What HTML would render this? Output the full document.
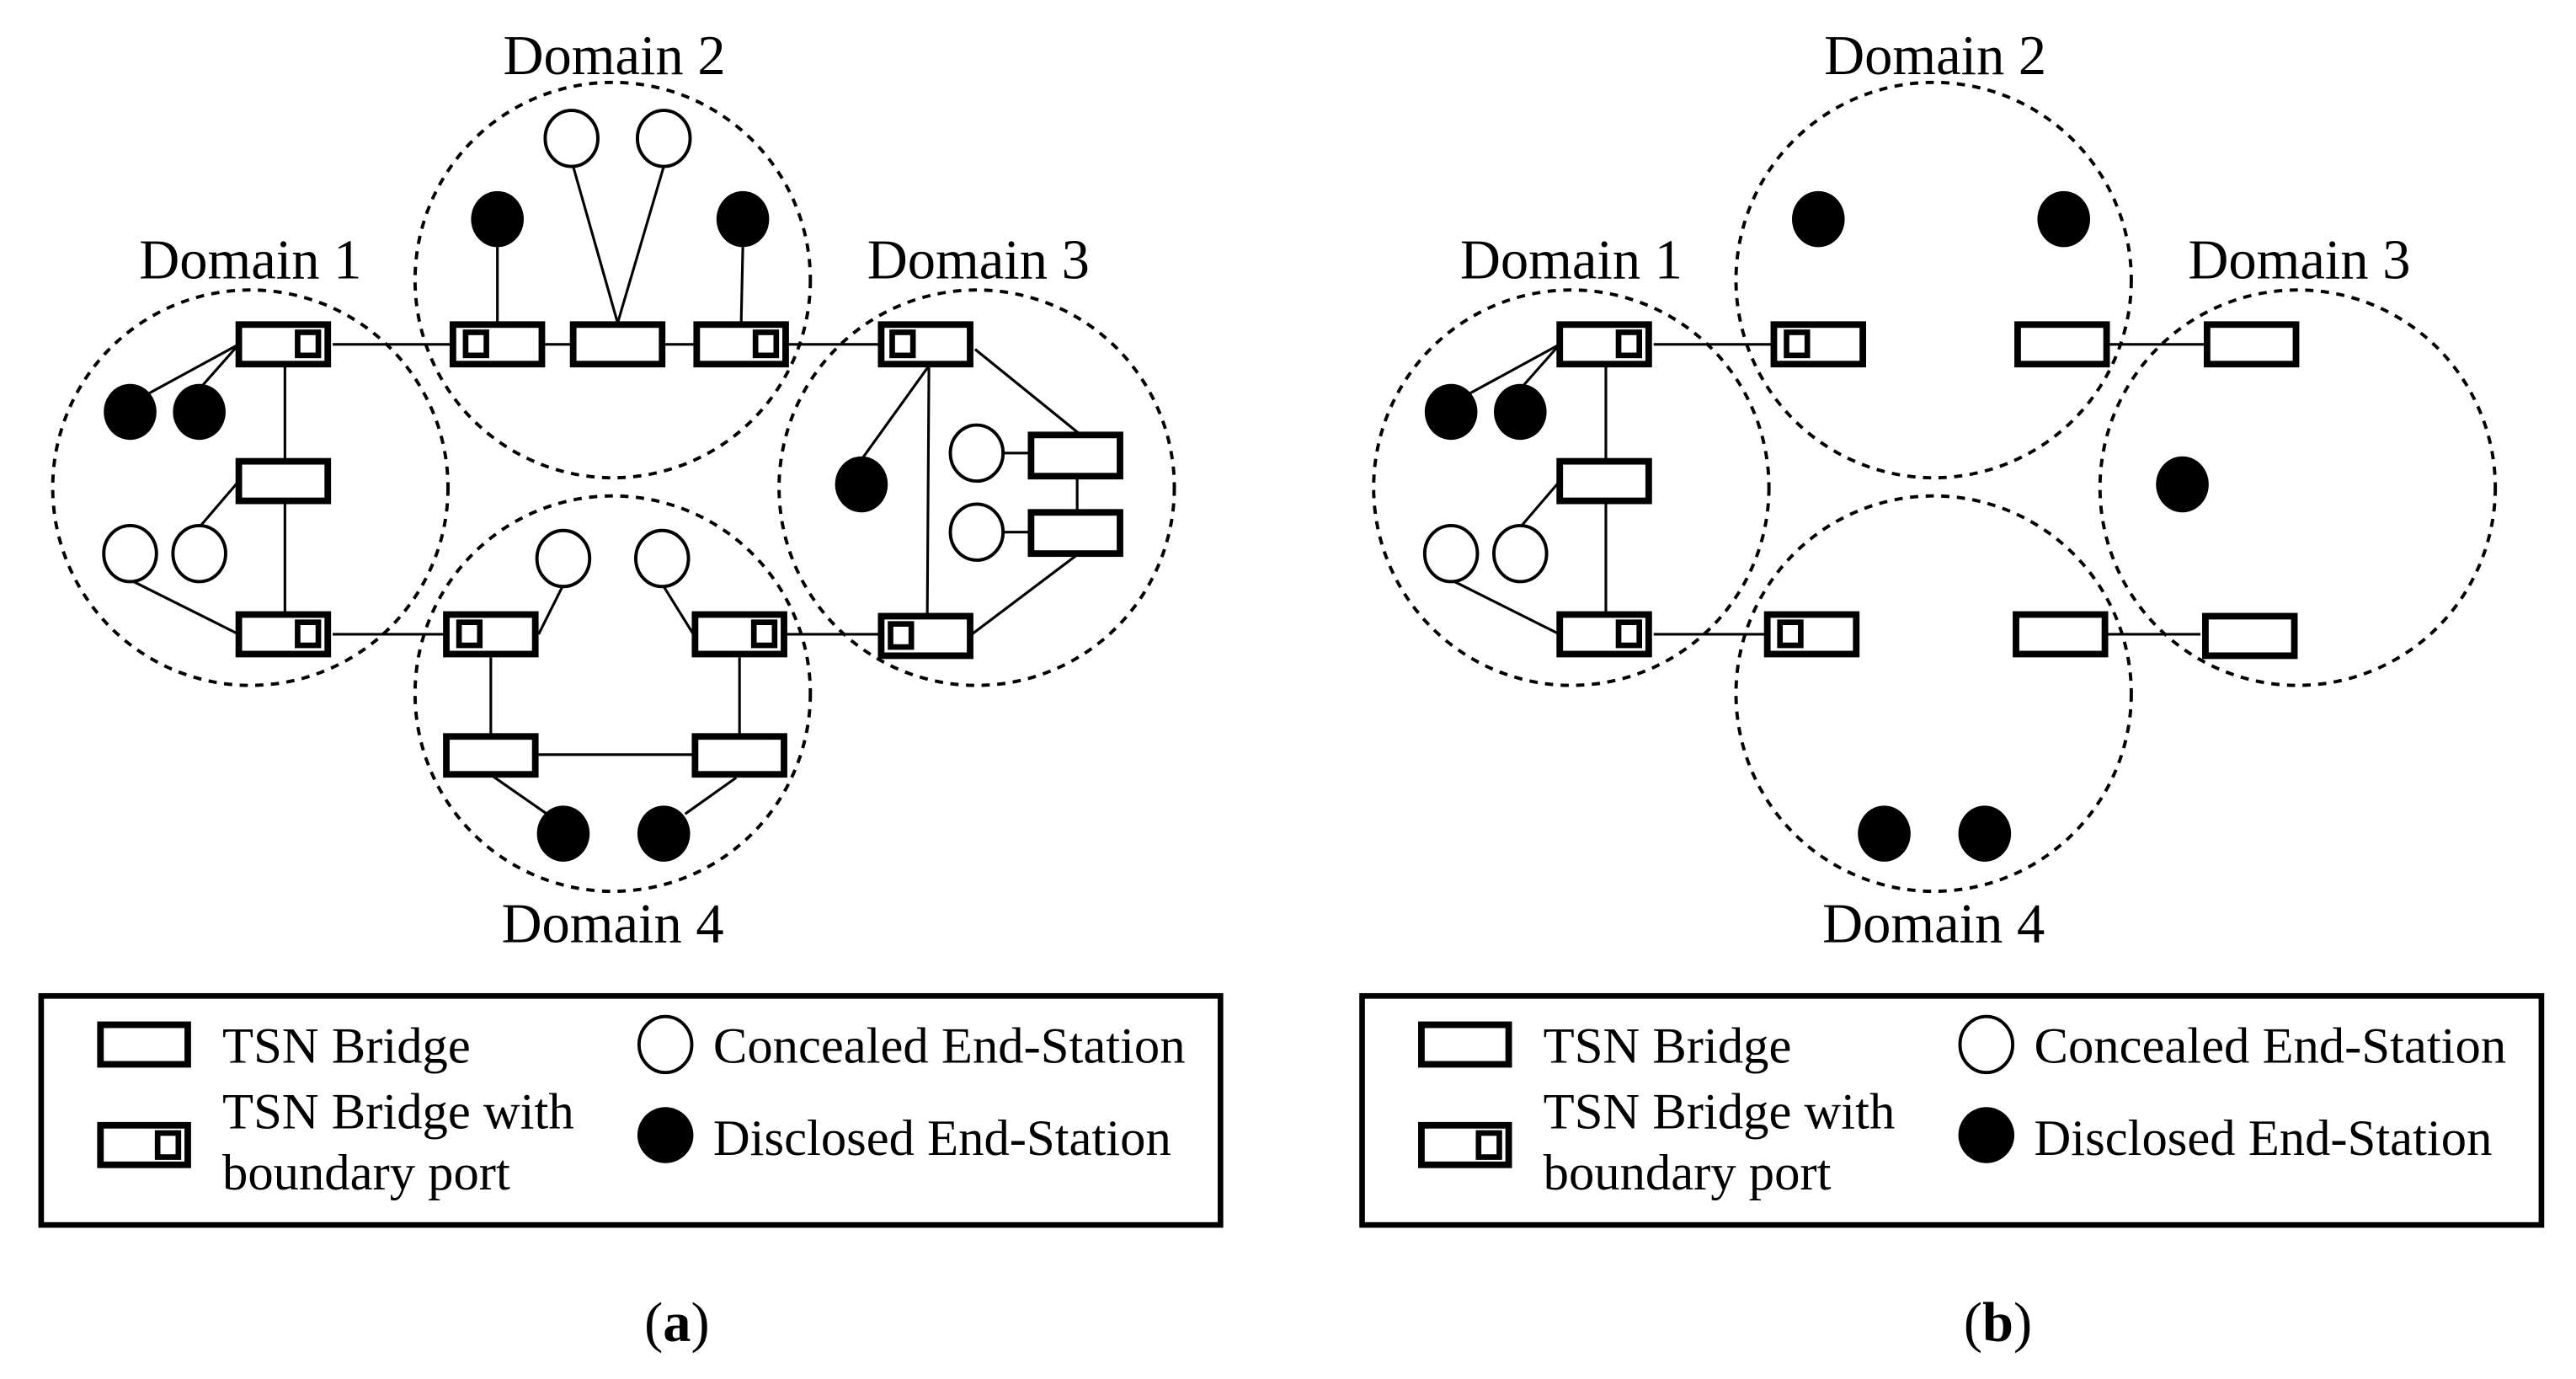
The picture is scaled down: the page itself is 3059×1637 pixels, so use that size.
<!DOCTYPE html>
<html><head><meta charset="utf-8"><style>
html,body{margin:0;padding:0;background:#fff}
svg{display:block}
text{font-family:"Liberation Serif",serif;fill:#000}
</style></head><body>
<svg width="3059" height="1637" viewBox="0 0 1564 837" preserveAspectRatio="none" xmlns="http://www.w3.org/2000/svg">
<defs>
<g id="legend">
  <rect x="25" y="604.5" width="716" height="139" fill="none" stroke="#000" stroke-width="3.4"/>
  <rect x="61" y="622" width="53" height="24" fill="none" stroke="#000" stroke-width="4"/>
  <text x="135" y="645" font-size="31">TSN Bridge</text>
  <rect x="61" y="683" width="53" height="24" fill="none" stroke="#000" stroke-width="4"/>
  <rect x="95.7" y="687.7" width="12.6" height="14.6" fill="none" stroke="#000" stroke-width="3.4"/>
  <text x="135" y="685" font-size="31">TSN Bridge with</text>
  <text x="135" y="722" font-size="31">boundary port</text>
  <ellipse cx="404" cy="634" rx="16" ry="17" fill="#fff" stroke="#000" stroke-width="2"/>
  <text x="433" y="645" font-size="31">Concealed End-Station</text>
  <ellipse cx="404" cy="689" rx="17" ry="17" fill="#000"/>
  <text x="433" y="701" font-size="31">Disclosed End-Station</text>
</g>
</defs>

<g fill="none" stroke="#000" stroke-width="2" stroke-dasharray="5,4.5">
  <ellipse cx="152" cy="296" rx="120" ry="120"/>
  <ellipse cx="372" cy="170" rx="120" ry="120"/>
  <ellipse cx="593" cy="296" rx="120" ry="120"/>
  <ellipse cx="372" cy="421" rx="120" ry="120"/>
</g>
<g font-size="34" text-anchor="middle">
  <text x="152" y="169">Domain 1</text>
  <text x="373" y="45">Domain 2</text>
  <text x="594" y="169">Domain 3</text>
  <text x="372" y="572">Domain 4</text>
</g>
<g stroke="#000" stroke-width="1.6" fill="none">
  <line x1="202" y1="209" x2="274" y2="209"/>
  <line x1="331" y1="209" x2="347" y2="209"/>
  <line x1="404" y1="209" x2="422" y2="209"/>
  <line x1="479" y1="209" x2="536" y2="209"/>
  <line x1="202" y1="385" x2="270" y2="385"/>
  <line x1="478" y1="385" x2="534" y2="385"/>
  <line x1="173" y1="221" x2="173" y2="373"/>
  <line x1="145" y1="209" x2="90" y2="239"/>
  <line x1="145" y1="209" x2="122" y2="235"/>
  <line x1="145" y1="292" x2="121" y2="320"/>
  <line x1="79" y1="352" x2="145" y2="385"/>
  <line x1="302" y1="150" x2="302" y2="196"/>
  <line x1="451" y1="150" x2="450" y2="196"/>
  <line x1="348" y1="101" x2="375" y2="196"/>
  <line x1="403" y1="101" x2="375" y2="196"/>
  <line x1="564" y1="222" x2="563" y2="373"/>
  <line x1="564" y1="222" x2="523" y2="279"/>
  <line x1="592" y1="212" x2="655" y2="263"/>
  <line x1="590" y1="385" x2="655" y2="336"/>
  <line x1="654" y1="290" x2="654" y2="310"/>
  <line x1="609" y1="275" x2="625" y2="275"/>
  <line x1="609" y1="323" x2="625" y2="323"/>
  <line x1="342" y1="355" x2="327" y2="385"/>
  <line x1="403" y1="356" x2="421" y2="385"/>
  <line x1="298" y1="399" x2="298" y2="446"/>
  <line x1="449" y1="399" x2="449" y2="446"/>
  <line x1="327" y1="458" x2="421" y2="458"/>
  <line x1="299" y1="471" x2="332" y2="494"/>
  <line x1="447" y1="472" x2="416" y2="494"/>
</g>
<g fill="#fff" stroke="#000" stroke-width="4">
  <rect x="145" y="197" width="54" height="24"/>
  <rect x="145" y="280" width="54" height="24"/>
  <rect x="145" y="373" width="54" height="24"/>
  <rect x="275" y="197" width="54" height="24"/>
  <rect x="348" y="197" width="54" height="24"/>
  <rect x="423" y="197" width="54" height="24"/>
  <rect x="535" y="197" width="54" height="24"/>
  <rect x="535" y="374" width="54" height="24"/>
  <rect x="626" y="264" width="54" height="25"/>
  <rect x="626" y="311" width="54" height="25"/>
  <rect x="271" y="373" width="54" height="24"/>
  <rect x="422" y="373" width="54" height="24"/>
  <rect x="271" y="447" width="54" height="23"/>
  <rect x="422" y="447" width="54" height="23"/>
</g>
<g fill="none" stroke="#000" stroke-width="3.4">
  <rect x="180.7" y="201.7" width="12.6" height="14"/>
  <rect x="282.7" y="201.7" width="12.6" height="14"/>
  <rect x="458.7" y="201.7" width="12.6" height="14"/>
  <rect x="541.7" y="201.7" width="12.6" height="14"/>
  <rect x="180.7" y="377.7" width="12.6" height="14"/>
  <rect x="278.7" y="377.7" width="12.6" height="14"/>
  <rect x="457.7" y="377.7" width="12.6" height="14"/>
  <rect x="540.7" y="378.7" width="12.6" height="14"/>
</g>
<g fill="#000">
  <ellipse cx="79" cy="250" rx="16" ry="17"/>
  <ellipse cx="121" cy="250" rx="16" ry="17"/>
  <ellipse cx="302" cy="133" rx="16" ry="17"/>
  <ellipse cx="451" cy="133" rx="16" ry="17"/>
  <ellipse cx="523" cy="294" rx="16" ry="17"/>
  <ellipse cx="342" cy="506" rx="16" ry="17"/>
  <ellipse cx="403" cy="506" rx="16" ry="17"/>
</g>
<g fill="#fff" stroke="#000" stroke-width="2">
  <ellipse cx="79" cy="336" rx="16" ry="17"/>
  <ellipse cx="121" cy="336" rx="16" ry="17"/>
  <ellipse cx="347" cy="84" rx="16" ry="17"/>
  <ellipse cx="403" cy="84" rx="16" ry="17"/>
  <ellipse cx="593" cy="275" rx="16" ry="17"/>
  <ellipse cx="593" cy="323" rx="16" ry="17"/>
  <ellipse cx="342" cy="339" rx="16" ry="17"/>
  <ellipse cx="402" cy="339" rx="16" ry="17"/>
</g>
<use href="#legend"/>
<text x="411" y="814" font-size="34" text-anchor="middle">(<tspan font-weight="bold">a</tspan>)</text>

<g transform="translate(802,0)">
<g fill="none" stroke="#000" stroke-width="2" stroke-dasharray="5,4.5">
  <ellipse cx="152" cy="296" rx="120" ry="120"/>
  <ellipse cx="372" cy="170" rx="120" ry="120"/>
  <ellipse cx="593" cy="296" rx="120" ry="120"/>
  <ellipse cx="372" cy="421" rx="120" ry="120"/>
</g>
<g font-size="34" text-anchor="middle">
  <text x="152" y="169">Domain 1</text>
  <text x="373" y="45">Domain 2</text>
  <text x="594" y="169">Domain 3</text>
  <text x="372" y="572">Domain 4</text>
</g>
<g stroke="#000" stroke-width="1.6" fill="none">
  <line x1="202" y1="209" x2="274" y2="209"/>
  <line x1="479" y1="209" x2="536" y2="209"/>
  <line x1="202" y1="385" x2="270" y2="385"/>
  <line x1="478" y1="385" x2="534" y2="385"/>
  <line x1="173" y1="221" x2="173" y2="373"/>
  <line x1="145" y1="209" x2="90" y2="239"/>
  <line x1="145" y1="209" x2="122" y2="235"/>
  <line x1="145" y1="292" x2="121" y2="320"/>
  <line x1="79" y1="352" x2="145" y2="385"/>
</g>
<g fill="#fff" stroke="#000" stroke-width="4">
  <rect x="145" y="197" width="54" height="24"/>
  <rect x="145" y="280" width="54" height="24"/>
  <rect x="145" y="373" width="54" height="24"/>
  <rect x="275" y="197" width="54" height="24"/>
  <rect x="423" y="197" width="54" height="24"/>
  <rect x="538" y="197" width="54" height="24"/>
  <rect x="537" y="374" width="54" height="24"/>
  <rect x="271" y="373" width="54" height="24"/>
  <rect x="422" y="373" width="54" height="24"/>
</g>
<g fill="none" stroke="#000" stroke-width="3.4">
  <rect x="180.7" y="201.7" width="12.6" height="14"/>
  <rect x="282.7" y="201.7" width="12.6" height="14"/>
  <rect x="180.7" y="377.7" width="12.6" height="14"/>
  <rect x="278.7" y="377.7" width="12.6" height="14"/>
</g>
<g fill="#000">
  <ellipse cx="79" cy="250" rx="16" ry="17"/>
  <ellipse cx="121" cy="250" rx="16" ry="17"/>
  <ellipse cx="302" cy="133" rx="16" ry="17"/>
  <ellipse cx="451" cy="133" rx="16" ry="17"/>
  <ellipse cx="523" cy="294" rx="16" ry="17"/>
  <ellipse cx="342" cy="506" rx="16" ry="17"/>
  <ellipse cx="403" cy="506" rx="16" ry="17"/>
</g>
<g fill="#fff" stroke="#000" stroke-width="2">
  <ellipse cx="79" cy="336" rx="16" ry="17"/>
  <ellipse cx="121" cy="336" rx="16" ry="17"/>
</g>
<use href="#legend"/>
<text x="411" y="814" font-size="34" text-anchor="middle">(<tspan font-weight="bold">b</tspan>)</text>
</g>
</svg>
</body></html>
